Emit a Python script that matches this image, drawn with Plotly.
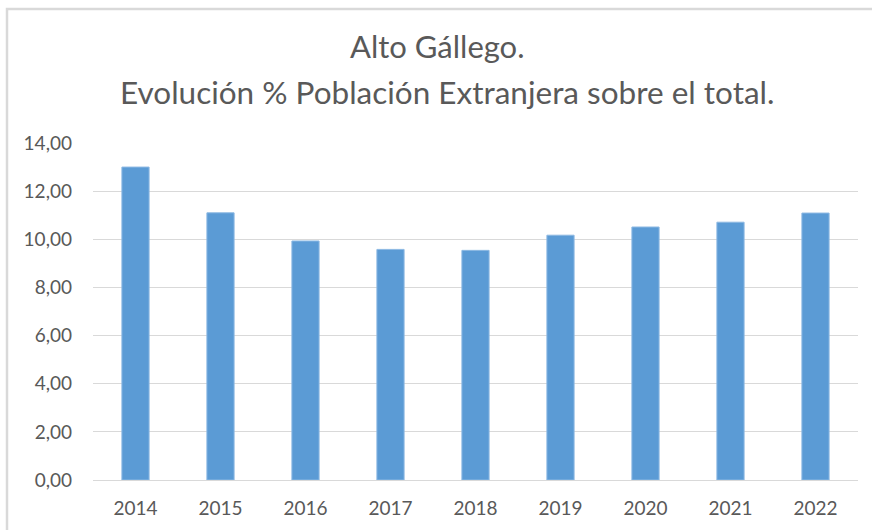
import plotly.graph_objects as go

years = ["2014", "2015", "2016", "2017", "2018", "2019", "2020", "2021", "2022"]
pct_extranjera = [13.00, 11.10, 9.93, 9.58, 9.54, 10.17, 10.51, 10.71, 11.09]
y_ticks = [0, 2, 4, 6, 8, 10, 12, 14]
y_tick_labels = ["0,00", "2,00", "4,00", "6,00", "8,00", "10,00", "12,00", "14,00"]
title_line1 = "Alto Gállego."
title_line2 = "Evolución % Población Extranjera sobre el total."

W, H = 872, 530
L, R, T, B = 93, 14, 143, 50
pw, ph = W - L - R, H - T - B

fig = go.Figure()
fig.add_trace(go.Bar(
    x=years, y=pct_extranjera,
    marker=dict(color="#5B9BD5", line=dict(color="#8DB9E3", width=1)),
    width=0.32,
))

font_fam = "Lato, 'Open Sans', sans-serif"
fig.update_layout(
    width=W, height=H,
    margin=dict(l=L, r=R, t=T, b=B),
    plot_bgcolor="white", paper_bgcolor="white",
    showlegend=False,
    font=dict(family=font_fam, color="#595959", size=18),
    xaxis=dict(showgrid=False, showline=False, ticks="", tickfont=dict(size=19),
               ticklabelstandoff=15),
    yaxis=dict(range=[0, 14], tickvals=y_ticks, ticktext=y_tick_labels,
               showgrid=True, gridcolor="#D9D9D9", gridwidth=1.3,
               zeroline=True, zerolinecolor="#D9D9D9", zerolinewidth=1.3,
               showline=False, ticks="", tickfont=dict(size=19),
               ticklabelstandoff=20),
)

def px_x(x):
    return (x - L) / pw

def px_y(y):
    return (H - B - y) / ph

# chart border (Excel chart area)
fig.add_shape(type="rect", xref="paper", yref="paper",
              x0=px_x(7), x1=px_x(W + 10), y0=px_y(H + 10), y1=px_y(9),
              line=dict(color="#D9D9D9", width=2.5), fillcolor="rgba(0,0,0,0)",
              layer="below")

fig.add_annotation(text=title_line1, xref="paper", yref="paper",
                   x=px_x(437), y=px_y(46), showarrow=False,
                   xanchor="center", yanchor="middle",
                   font=dict(size=31, color="#595959", family=font_fam))
fig.add_annotation(text=title_line2, xref="paper", yref="paper",
                   x=px_x(447), y=px_y(92), showarrow=False,
                   xanchor="center", yanchor="middle",
                   font=dict(size=31.5, color="#595959", family=font_fam))

fig.write_html("out.html", config={"displayModeBar": False},
               post_script="document.body.style.margin='0';document.body.style.padding='0';")
